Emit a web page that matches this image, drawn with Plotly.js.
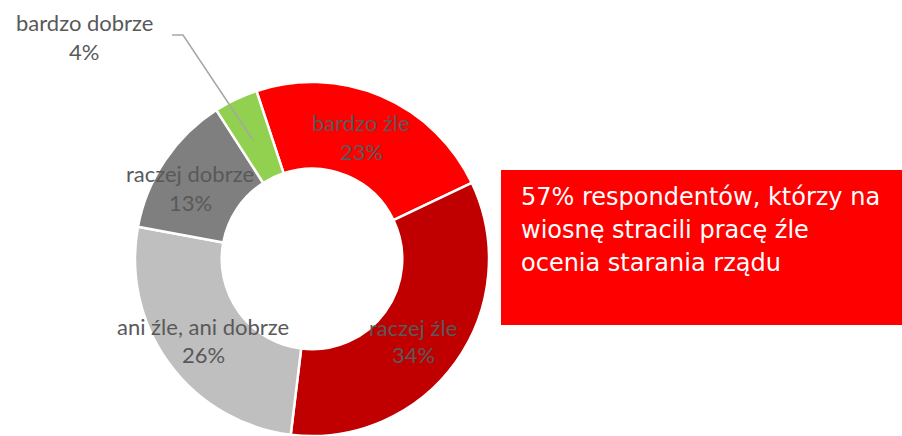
<!DOCTYPE html>
<html>
<head>
<meta charset="utf-8">
<script src="https://cdn.plot.ly/plotly-3.0.1.min.js"></script>
<style>
  html, body { margin: 0; padding: 0; background: #fff; }
  #chart { width: 902px; height: 436px; }
</style>
</head>
<body>
<div id="chart"></div>
<script>
"use strict";

const categories = ["bardzo źle", "raczej źle", "ani źle, ani dobrze", "raczej dobrze", "bardzo dobrze"];
const shares = [23, 34, 26, 13, 4];
const sliceColors = ["#FF0000", "#C00000", "#BFBFBF", "#7F7F7F", "#92D050"];
const calloutLines = ["57% respondentów, którzy na", "wiosnę stracili pracę źle", "ocenia starania rządu"];

const W = 902, H = 436;
const px = (x) => x / W;
const py = (y) => 1 - y / H;

// where the label sits for each slice (pixel centers of the two lines)
const labelPos = [
    [361, 123, 151],
    [413, 327, 354],
    [203, 326, 354],
    [190, 173, 202],
    [84, 23, 51],
];

const labelFont = { family: "Lato, 'Open Sans', sans-serif", size: 22, color: "#595959" };

let annotations = [];
categories.forEach((c, i) => {
    let [x, y1, y2] = labelPos[i];
    annotations.push({ xref: "paper", yref: "paper", x: px(x), y: py(y1), text: c,
        showarrow: false, xanchor: "center", yanchor: "middle", font: labelFont });
    annotations.push({ xref: "paper", yref: "paper", x: px(x), y: py(y2), text: shares[i] + "%",
        showarrow: false, xanchor: "center", yanchor: "middle", font: labelFont });
});

const calloutY = [197, 230, 263];
calloutLines.forEach((t, i) => {
    annotations.push({ xref: "paper", yref: "paper", x: px(519), y: py(calloutY[i]), text: t,
        showarrow: false, xanchor: "left", yanchor: "middle",
        font: { family: "'DejaVu Sans', Arial, sans-serif", size: 24, color: "#FFFFFF" } });
});

var trace = {
    type: "pie",
    labels: categories,
    values: shares,
    sort: false,
    direction: "clockwise",
    rotation: -18.3,
    hole: 0.51,
    textinfo: "none",
    hoverinfo: "label+percent",
    marker: { colors: sliceColors, line: { color: "#FFFFFF", width: 2.5 } },
    domain: { x: [px(135), px(489)], y: [0, py(82)] },
    showlegend: false,
};

var layout = {
    width: W,
    height: H,
    margin: { l: 0, r: 0, t: 0, b: 0 },
    paper_bgcolor: "#FFFFFF",
    plot_bgcolor: "#FFFFFF",
    showlegend: false,
    annotations: annotations,
    shapes: [
        // callout box
        { type: "rect", xref: "paper", yref: "paper", layer: "below",
          x0: px(501), x1: 1, y0: py(325), y1: py(170),
          fillcolor: "#FF0000", line: { width: 0 } },
        // leader line for the small slice
        { type: "path", xref: "paper", yref: "paper", layer: "above",
          path: `M ${px(172)} ${py(35)} L ${px(183)} ${py(35)} L ${px(253)} ${py(140)}`,
          line: { color: "#A6A6A6", width: 1.5 } },
    ],
};

Plotly.newPlot("chart", [trace], layout, { displayModeBar: false, staticPlot: true });
</script>
</body>
</html>
